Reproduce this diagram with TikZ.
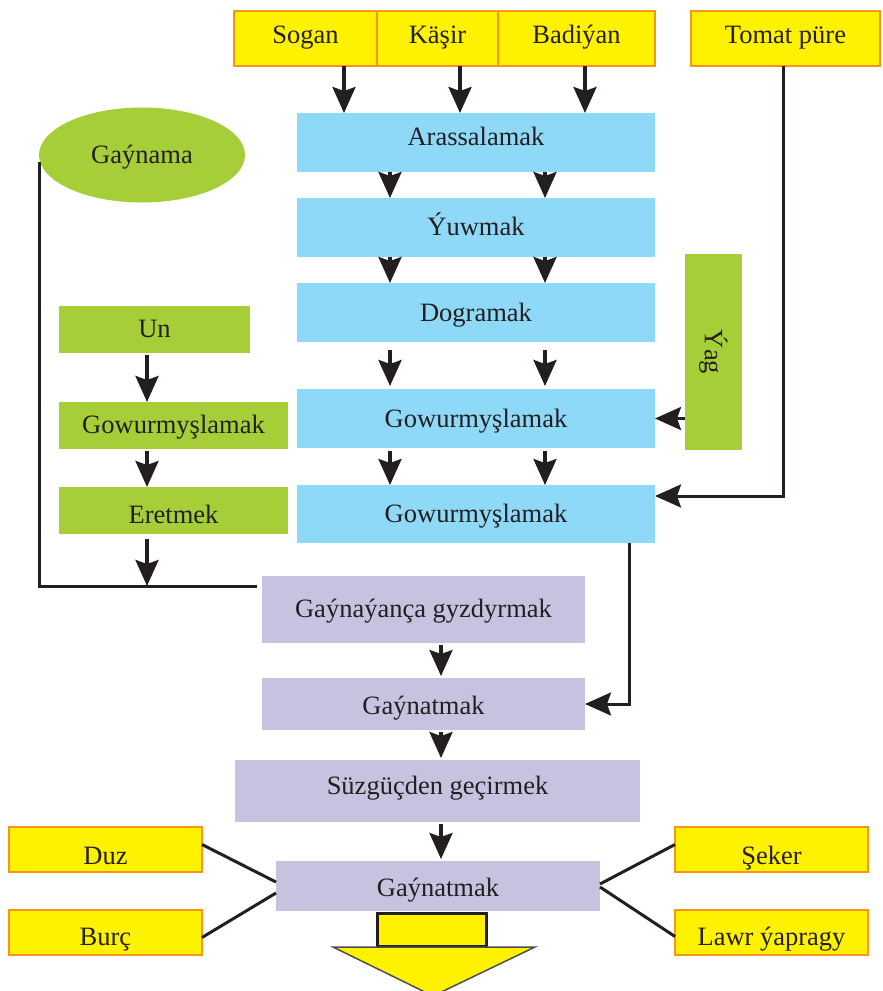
\documentclass[tikz,border=0pt]{standalone}
\usepackage{fontspec}
\setmainfont{Liberation Serif}
\usetikzlibrary{arrows.meta,shapes.geometric}
\definecolor{ink}{HTML}{231F20}
\definecolor{yel}{HTML}{FFF200}
\definecolor{org}{HTML}{F7941D}
\definecolor{blu}{HTML}{8ED8F8}
\definecolor{grn}{HTML}{A6CE39}
\definecolor{pur}{HTML}{C5C3E0}
\newcommand{\rb}[2]{\raisebox{#1pt}{#2}}
\tikzset{
  plain/.style={inner sep=0pt, outer sep=0pt, text=ink, font=\fontsize{26.5}{30}\selectfont},
  base/.style={plain, text height=23pt, text depth=5.3pt},
  ybox/.style={base, rectangle, fill=yel, draw=org, line width=1.5pt},
  bbox/.style={base, rectangle, fill=blu},
  gbox/.style={base, rectangle, fill=grn},
  pbox/.style={base, rectangle, fill=pur},
  arr/.style={line width=3.5pt, draw=ink, -{Stealth[length=26pt,width=23pt,inset=4pt]}},
  lin/.style={line width=3pt, draw=ink},
}
\begin{document}
\begin{tikzpicture}[x=1pt,y=-1pt]
\useasboundingbox (0,0) rectangle (883,991);
% top inputs
\node[ybox, minimum width=143, minimum height=55] (Sogan) at (305.5,38.5) {\rb{3.5}{Sogan}};
\node[ybox, minimum width=121, minimum height=55] (Kasir) at (437.5,38.5) {\rb{3.5}{Käşir}};
\node[ybox, minimum width=157, minimum height=55] (Badi) at (576.5,38.5) {\rb{3.5}{Badiýan}};
\node[ybox, minimum width=189, minimum height=55] (Tomat) at (785.5,38.5) {\rb{3.5}{Tomat püre}};
% blue column
\node[bbox, minimum width=358, minimum height=59] (Aras) at (476,142.5) {\rb{6}{Arassalamak}};
\node[bbox, minimum width=358, minimum height=59] (Yuw) at (476,227.5) {\rb{1}{Ýuwmak}};
\node[bbox, minimum width=358, minimum height=59] (Dog) at (476,312.5) {Dogramak};
\node[bbox, minimum width=358, minimum height=59] (Gow1) at (476,418.5) {Gowurmyşlamak};
\node[bbox, minimum width=358, minimum height=58] (Gow2) at (476,514) {\rb{0.5}{Gowurmyşlamak}};
% green
\node[base, ellipse, fill=grn, minimum width=206, minimum height=95] (Gay) at (142,155) {Gaýnama};
\node[gbox, minimum width=191, minimum height=47] (Un) at (154.5,329.5) {\rb{1}{Un}};
\node[gbox, minimum width=229, minimum height=47] (GowG) at (173.5,425.5) {\rb{1}{Gowurmyşlamak}};
\node[gbox, minimum width=229, minimum height=47] (Eret) at (173.5,510.5) {\rb{-4}{Eretmek}};
\node[plain, rectangle, fill=grn, minimum width=57, minimum height=196] (Yag) at (713.5,352) {\rotatebox{-90}{Ýag}};
% purple
\node[pbox, minimum width=323, minimum height=67] (P1) at (423.5,609.5) {\rb{1}{Gaýnaýança gyzdyrmak}};
\node[pbox, minimum width=323, minimum height=52] (P2) at (423.5,704) {\rb{-1.5}{Gaýnatmak}};
\node[pbox, minimum width=405, minimum height=62] (P3) at (437.5,791) {\rb{5.5}{Süzgüçden geçirmek}};
\node[pbox, minimum width=324, minimum height=50] (P4) at (438,886) {\rb{-1.5}{Gaýnatmak}};
% bottom inputs
\node[ybox, minimum width=193, minimum height=45] (Duz) at (105.5,849.5) {\rb{-6}{Duz}};
\node[ybox, minimum width=193, minimum height=45] (Burc) at (105.5,932.5) {\rb{-4}{Burç}};
\node[ybox, minimum width=193, minimum height=45] (Seker) at (771.5,849.5) {\rb{-6}{Şeker}};
\node[ybox, minimum width=193, minimum height=45] (Lawr) at (771.5,932.5) {\rb{-4}{Lawr ýapragy}};
% output arrow
\node[plain, rectangle, fill=yel, draw=ink, line width=3pt, minimum width=109, minimum height=33] (Out) at (431.5,929.5) {};
\draw[fill=yel, draw=ink!80, line width=1.5pt] (333,947) -- (535,947) -- (433,996) -- cycle;
% column coordinates
\coordinate (c1) at (344,0);
\coordinate (c2) at (460,0);
\coordinate (c3) at (585,0);
\coordinate (b1) at (390,0);
\coordinate (b2) at (545,0);
\coordinate (g1) at (147,0);
\coordinate (p1) at (441,0);
% top arrows
\draw[arr] (c1 |- Sogan.south) -- (c1 |- Aras.north);
\draw[arr] (c2 |- Kasir.south) -- (c2 |- Aras.north);
\draw[arr] (c3 |- Badi.south) -- (c3 |- Aras.north);
% blue arrows
\foreach \c in {b1,b2}{
  \draw[arr] (\c |- Aras.south) -- (\c |- Yuw.north);
  \draw[arr] (\c |- Yuw.south) -- (\c |- Dog.north);
  \draw[arr, shorten <=8pt, shorten >=3pt] (\c |- Dog.south) -- (\c |- Gow1.north);
  \draw[arr, shorten <=3pt] (\c |- Gow1.south) -- (\c |- Gow2.north);
}
% Yag and Tomat
\draw[arr] (Yag.west |- Gow1.east) -- (Gow1.east);
\draw[arr, line width=3pt] ([xshift=-2.5pt]Tomat.south) |- ([yshift=18pt]Gow2.east);
% green arrows
\draw[arr, shorten <=2pt] (g1 |- Un.south) -- (g1 |- GowG.north);
\draw[arr, shorten <=2pt] (g1 |- GowG.south) -- (g1 |- Eret.north);
\coordinate (J) at ([yshift=23.5pt,xshift=-5pt]P1.west);
\draw[lin] ([yshift=-7pt]Gay.west) |- (J);
\draw[arr, shorten <=5pt] (g1 |- Eret.south) -- (g1 |- J);
% purple arrows
\draw[arr, shorten <=2pt, shorten >=2pt] (p1 |- P1.south) -- (p1 |- P2.north);
\draw[arr, shorten <=2pt, shorten >=2pt] (p1 |- P2.south) -- (p1 |- P3.north);
\draw[arr, shorten <=2pt, shorten >=2pt] (p1 |- P3.south) -- (p1 |- P4.north);
\draw[arr, line width=3pt] ([xshift=153pt]Gow2.south) |- (P2.east);
% side lines
\draw[lin] ([yshift=5pt]Duz.east) -- ([yshift=4pt]P4.west);
\draw[lin] ([yshift=-5pt]Burc.east) -- ([yshift=-7pt]P4.west);
\draw[lin] ([yshift=5pt]Seker.west) -- ([yshift=2pt]P4.east);
\draw[lin] ([yshift=-4pt]Lawr.west) -- ([yshift=-1pt]P4.east);
\end{tikzpicture}
\end{document}
